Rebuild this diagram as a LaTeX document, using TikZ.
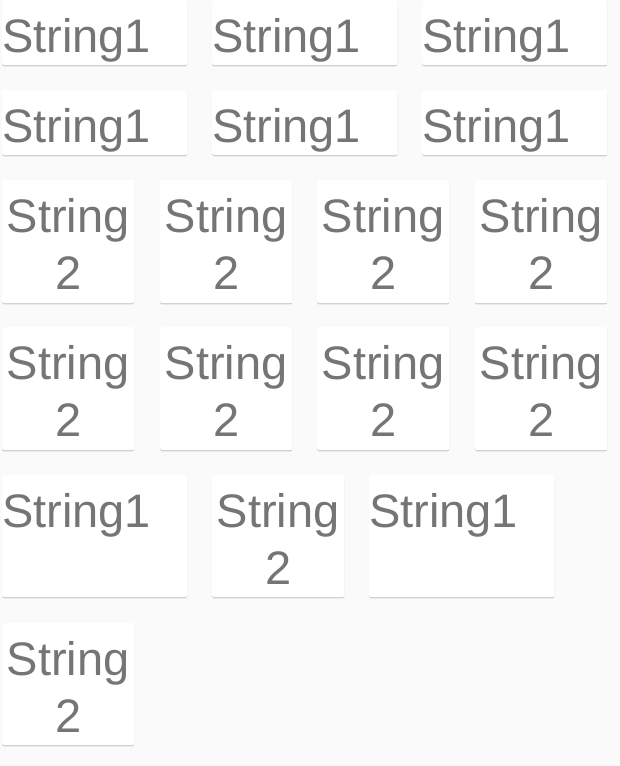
\documentclass[tikz,border=0pt]{standalone}
\usepackage{fontspec}
\setmainfont{Liberation Sans}
\usetikzlibrary{positioning, shadows}
\definecolor{bggray}{HTML}{FAFAFA}
\definecolor{txtgray}{HTML}{757575}
\tikzset{
  card/.style={fill=white, rounded corners=2pt, inner sep=0pt, anchor=north west,
    drop shadow={shadow xshift=0pt, shadow yshift=-1.2pt, opacity=0.18, fill=black}},
  wide/.style={minimum width=185pt},
  narrow/.style={minimum width=132pt},
  textleft/.style={anchor=north west, inner sep=0pt, text=txtgray,
    font=\fontsize{47}{57}\selectfont},
  textmid/.style={anchor=north, inner sep=0pt, align=center, text=txtgray,
    font=\fontsize{47}{57}\selectfont},
}

\begin{document}
\begin{tikzpicture}[x=1pt, y=-1pt]
  \fill [bggray] (0,0) rectangle (620,766);
  \useasboundingbox (0,0) rectangle (620,766);
  % two rows of wide cards
  \foreach \x [count=\i] in {2,212,422} {
    \node [card, wide, minimum height=65pt] (a\i) at (\x,0) {};
    \node [textleft] (ta\i) at ([yshift=-18pt]a\i.north west) {String1};
    \node [card, wide, minimum height=65pt] (b\i) at (\x,90) {};
    \node [textleft] (tb\i) at ([yshift=-18pt]b\i.north west) {String1};
  }
  % two rows of narrow cards
  \foreach \x [count=\i] in {2,160,317,475} {
    \node [card, narrow, minimum height=123pt] (c\i) at (\x,180) {};
    \node [textmid] (tc\i) at ([yshift=-18pt]c\i.north) {String\\2};
    \node [card, narrow, minimum height=123pt] (d\i) at (\x,327) {};
    \node [textmid] (td\i) at ([yshift=-18pt]d\i.north) {String\\2};
  }
  % mixed rows
  \node [card, wide, minimum height=122pt] (e1) at (2,475) {};
  \node [textleft] (te1) at ([yshift=-18pt]e1.north west) {String1};
  \node [card, narrow, minimum height=122pt] (e2) at (212,475) {};
  \node [textmid] (te2) at ([yshift=-18pt]e2.north) {String\\2};
  \node [card, wide, minimum height=122pt] (e3) at (369,475) {};
  \node [textleft] (te3) at ([yshift=-18pt]e3.north west) {String1};
  \node [card, narrow, minimum height=122pt] (f1) at (2,623) {};
  \node [textmid] (tf1) at ([yshift=-18pt]f1.north) {String\\2};
\end{tikzpicture}
\end{document}
